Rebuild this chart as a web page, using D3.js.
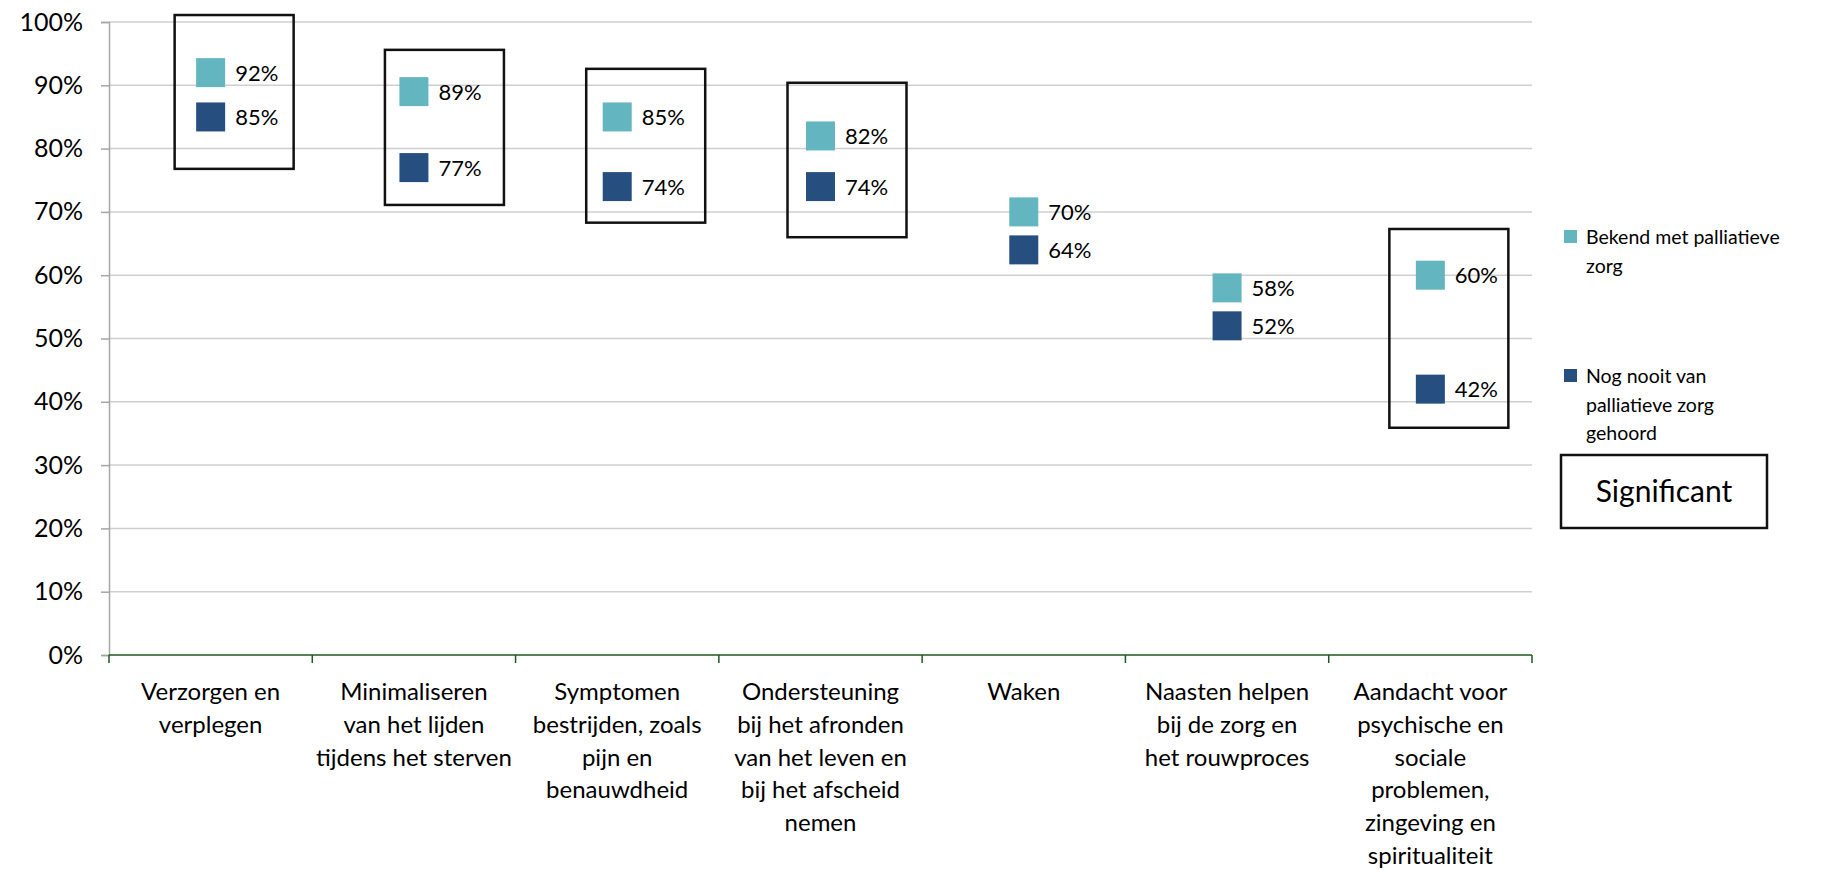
<!DOCTYPE html>
<html>
<head>
<meta charset="utf-8">
<script src="https://cdn.jsdelivr.net/npm/d3@7"></script>
<style>
  html, body { margin: 0; padding: 0; background: #fff; }
  svg { display: block; font-family: Lato, "Open Sans", sans-serif; font-weight: 400; }
</style>
</head>
<body>
<svg id="chart" width="1831" height="877"></svg>
<script>
// ---- data ----
const categories = [
  ["Verzorgen en", "verplegen"],
  ["Minimaliseren", "van het lijden", "tijdens het sterven"],
  ["Symptomen", "bestrijden, zoals", "pijn en", "benauwdheid"],
  ["Ondersteuning", "bij het afronden", "van het leven en", "bij het afscheid", "nemen"],
  ["Waken"],
  ["Naasten helpen", "bij de zorg en", "het rouwproces"],
  ["Aandacht voor", "psychische en", "sociale", "problemen,", "zingeving en", "spiritualiteit"]
];
const bekend = [0.92, 0.89, 0.85, 0.82, 0.70, 0.58, 0.60];
const nooit  = [0.85, 0.77, 0.74, 0.74, 0.64, 0.52, 0.42];
const seriesNames = [["Bekend met palliatieve", "zorg"], ["Nog nooit van", "palliatieve zorg", "gehoord"]];
const yTicks = [0, 0.1, 0.2, 0.3, 0.4, 0.5, 0.6, 0.7, 0.8, 0.9, 1.0];
// significant-difference boxes: category index, top and bottom in value units
const sigIndex  = [0, 1, 2, 3, 6];
const sigTop    = [1.011, 0.956, 0.926, 0.904, 0.673];
const sigBottom = [0.768, 0.711, 0.683, 0.660, 0.359];
const sigLabel = "Significant";

// ---- layout ----
const colors = ["#63b5bf", "#264f80"];
const svg = d3.select("#chart");
const x = d3.scaleBand().domain(d3.range(categories.length)).range([109, 1532]).padding(0);
const y = d3.scaleLinear().domain([0, 1]).range([655, 22]);
const boxLeftShift = [-36, -29, -31, -33, -41]; // hand-drawn box offsets from category centre

// gridlines
svg.append("g").selectAll("line").data(yTicks.filter(d => d > 0)).join("line")
  .attr("x1", 109).attr("x2", 1532)
  .attr("y1", d => y(d)).attr("y2", d => y(d))
  .attr("stroke", "#cfcfcf").attr("stroke-width", 1.5);

// y axis
const yAxis = svg.append("g").attr("transform", "translate(109,0)")
  .call(d3.axisLeft(y).tickValues(yTicks).tickFormat(d3.format(".0%")).tickSize(8).tickPadding(18));
yAxis.select(".domain").attr("stroke", "#a6a6a6").attr("stroke-width", 1.5);
yAxis.selectAll(".tick line").attr("stroke", "#a6a6a6").attr("stroke-width", 1.5);
yAxis.selectAll(".tick text").attr("font-size", 25).attr("fill", "#000")
  .attr("font-family", "Lato, sans-serif").attr("font-weight", 400);

// x axis
const xAxis = svg.append("g").attr("transform", `translate(0,${y(0)})`);
xAxis.append("line").attr("x1", 109).attr("x2", 1532).attr("y1", 0).attr("y2", 0)
  .attr("stroke", "#1e5a1e").attr("stroke-width", 1.5);
const bounds = d3.range(categories.length + 1).map(i => i < categories.length ? x(i) : x(i - 1) + x.bandwidth());
xAxis.selectAll("line.tk").data(bounds).join("line").attr("class", "tk")
  .attr("x1", d => d).attr("x2", d => d).attr("y1", 0).attr("y2", 8)
  .attr("stroke", "#1e5a1e").attr("stroke-width", 1.5);

// category labels
const catG = svg.append("g");
categories.forEach((lines, i) => {
  const t = catG.append("text")
    .attr("x", x(i) + x.bandwidth() / 2).attr("y", 700)
    .attr("text-anchor", "middle").attr("font-size", 24).attr("fill", "#000");
  lines.forEach((ln, j) => t.append("tspan").attr("x", x(i) + x.bandwidth() / 2).attr("dy", j === 0 ? 0 : 32.8).text(ln));
});

// significance boxes
svg.append("g").selectAll("rect").data(sigIndex).join("rect")
  .attr("x", (d, k) => x(d) + x.bandwidth() / 2 + boxLeftShift[k])
  .attr("width", 119)
  .attr("y", (d, k) => y(sigTop[k]))
  .attr("height", (d, k) => y(sigBottom[k]) - y(sigTop[k]))
  .attr("fill", "none").attr("stroke", "#111").attr("stroke-width", 2.5);

// markers + labels
const ms = 29;
[bekend, nooit].forEach((vals, s) => {
  const g = svg.append("g");
  g.selectAll("rect").data(vals).join("rect")
    .attr("x", (d, i) => x(i) + x.bandwidth() / 2 - ms / 2)
    .attr("y", d => y(d) - ms / 2)
    .attr("width", ms).attr("height", ms)
    .attr("fill", colors[s]);
  g.selectAll("text").data(vals).join("text")
    .attr("x", (d, i) => x(i) + x.bandwidth() / 2 + ms / 2 + 10)
    .attr("y", d => y(d) + 8)
    .attr("font-size", 22).attr("fill", "#000")
    .text(d => d3.format(".0%")(d));
});

// legend
const leg = svg.append("g");
const legTop = [230, 369];
seriesNames.forEach((lines, s) => {
  leg.append("rect").attr("x", 1564).attr("y", legTop[s]).attr("width", 13).attr("height", 13).attr("fill", colors[s]);
  const t = leg.append("text").attr("x", 1586).attr("y", legTop[s] + 14).attr("font-size", 19.5).attr("fill", "#000");
  lines.forEach((ln, j) => t.append("tspan").attr("x", 1586).attr("dy", j === 0 ? 0 : 28.7).text(ln));
});
leg.append("rect").attr("x", 1561).attr("y", 455).attr("width", 206).attr("height", 73)
  .attr("fill", "none").attr("stroke", "#111").attr("stroke-width", 2.5);
leg.append("text").attr("x", 1664).attr("y", 502).attr("text-anchor", "middle")
  .attr("font-size", 30).attr("fill", "#000").text(sigLabel);
</script>
</body>
</html>
